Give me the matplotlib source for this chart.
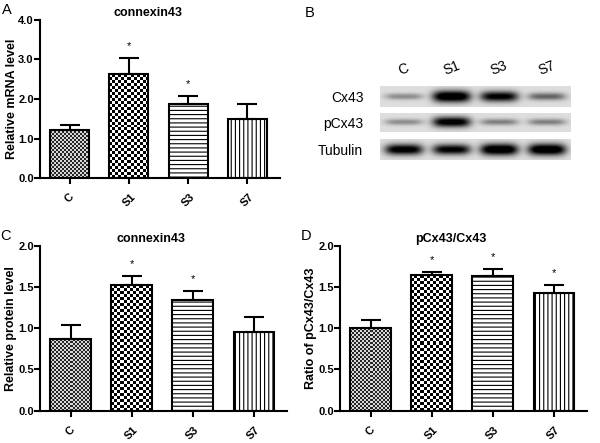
import numpy as np
import matplotlib
matplotlib.use("Agg")
import matplotlib.pyplot as plt
from matplotlib.colors import ListedColormap

plt.rcParams["font.family"] = ["Liberation Sans", "DejaVu Sans"]
plt.rcParams["hatch.linewidth"] = 0.8

groups = ["C", "S1", "S3", "S7"]

# A: connexin43 mRNA
mrna_mean = [1.22, 2.63, 1.87, 1.49]
mrna_err = [0.12, 0.40, 0.21, 0.38]
mrna_sig = [False, True, True, False]

# C: connexin43 protein
prot_mean = [0.87, 1.52, 1.345, 0.95]
prot_err = [0.17, 0.12, 0.105, 0.19]
prot_sig = [False, True, True, False]

# D: pCx43/Cx43 ratio
ratio_mean = [1.00, 1.65, 1.64, 1.43]
ratio_err = [0.10, 0.03, 0.08, 0.09]
ratio_sig = [False, True, True, True]

# B: western blot, band darkness per lane (0 = nothing, 1 = saturated)
blot_rows = ["Cx43", "pCx43", "Tubulin"]
cx43_bands = [0.30, 1.00, 0.85, 0.45]
pcx43_bands = [0.30, 0.90, 0.35, 0.35]
tubulin_bands = [0.90, 0.85, 1.00, 1.00]

BAR_W = 0.66
LW = 1.5


def checker_fill(ax, bar, cell_px, dark, light):
    # checkerboard texture clipped to the bar (GraphPad style fill)
    x0, y0 = bar.get_x(), bar.get_y()
    x1, y1 = x0 + bar.get_width(), y0 + bar.get_height()
    (px0, py0), (px1, py1) = ax.transData.transform([(x0, y0), (x1, y1)])
    nx = max(1, int(round((px1 - px0) / cell_px)))
    ny = max(1, int(round((py1 - py0) / cell_px)))
    board = np.add.outer(np.arange(ny), np.arange(nx)) % 2
    img = ax.imshow(board, cmap=ListedColormap([light, dark]),
                    extent=(x0, x1, y0, y1), interpolation="nearest",
                    aspect="auto", zorder=1.5)
    img.set_clip_path(bar)


def bar_panel(ax, means, errs, sig, ymax, ystep, title, ylabel, letter):
    x = np.arange(len(groups))
    ax.set_xlim(-0.5, 3.55)
    ax.set_ylim(0, ymax)
    bars = ax.bar(x, means, width=BAR_W, facecolor="white", edgecolor="black",
                  linewidth=LW, zorder=2)
    bars[0].set_facecolor("none")
    bars[1].set_facecolor("none")
    bars[2].set_hatch("----")
    bars[3].set_hatch("||||")
    ax.errorbar(x, means, yerr=[np.zeros(len(errs)), errs], fmt="none",
                ecolor="black", elinewidth=LW, capsize=7, capthick=LW, zorder=3)
    checker_fill(ax, bars[0], 2, "#262626", "#d8d8d8")
    checker_fill(ax, bars[1], 3, "black", "white")
    ax.set_xlim(-0.5, 3.55)
    ax.set_ylim(0, ymax)

    for i, s in enumerate(sig):
        if s:
            ax.annotate("*", xy=(i, means[i] + errs[i]), xytext=(0, 5),
                        textcoords="offset points", ha="center", va="bottom",
                        fontsize=8)

    ticks = np.arange(0, ymax + 1e-9, ystep)
    ax.set_yticks(ticks)
    ax.set_yticklabels([f"{v:.1f}" for v in ticks], fontweight="bold", fontsize=8)
    ax.set_xticks(x)
    ax.set_xticklabels(groups, rotation=45, ha="center", va="top",
                       fontweight="bold", fontsize=8)
    ax.tick_params(width=LW, length=4, direction="out")
    ax.tick_params(axis="y", pad=0.5)
    ax.tick_params(axis="x", pad=6)
    for side in ("top", "right"):
        ax.spines[side].set_visible(False)
    for side in ("left", "bottom"):
        ax.spines[side].set_linewidth(LW)
    ax.set_title(title, fontweight="bold", fontsize=9, x=0.45, pad=3)
    ax.set_ylabel(ylabel, fontweight="bold", fontsize=9)
    ax.yaxis.set_label_coords(-0.092, 0.5)
    ax.text(-0.16, 1.02, letter, transform=ax.transAxes, fontsize=10.5,
            ha="left", va="bottom")


def blot_image(bands, ny=60, nx=400):
    xs = np.linspace(0, len(bands), nx)
    ys = np.linspace(-1, 1, ny)
    X, Y = np.meshgrid(xs, ys)
    dark = np.zeros_like(X)
    for i, b in enumerate(bands):
        wy = 0.20 + 0.36 * b
        dark += b * np.exp(-np.abs((X - (i + 0.5)) / 0.40) ** 4) * np.exp(-(Y / wy) ** 2)
    return 0.87 * (1 - np.clip(1.25 * dark, 0, 1))


fig = plt.figure(figsize=(6, 4.43), dpi=100)

axA = fig.add_axes([0.0667, 0.598, 0.40, 0.357])
bar_panel(axA, mrna_mean, mrna_err, mrna_sig, 4.0, 1.0,
          "connexin43", "Relative mRNA level", "A")

axC = fig.add_axes([0.0667, 0.073, 0.412, 0.372])
bar_panel(axC, prot_mean, prot_err, prot_sig, 2.0, 0.5,
          "connexin43", "Relative protein level", "C")

axD = fig.add_axes([0.5667, 0.073, 0.412, 0.372])
bar_panel(axD, ratio_mean, ratio_err, ratio_sig, 2.0, 0.5,
          "pCx43/Cx43", "Ratio of pCx43/Cx43", "D")

# panel B: blot strips
row_boxes = [
    [0.6333, 0.7585, 0.3167, 0.0474],
    [0.6333, 0.7020, 0.3167, 0.0429],
    [0.6333, 0.6388, 0.3167, 0.0474],
]
for k, (name, bands) in enumerate(zip(blot_rows, [cx43_bands, pcx43_bands, tubulin_bands])):
    bx = fig.add_axes(row_boxes[k])
    bx.imshow(blot_image(bands), cmap="gray", vmin=0, vmax=1, aspect="auto",
              extent=(0, len(bands), -1, 1), interpolation="bilinear")
    bx.set_xlim(0, len(bands))
    bx.set_ylim(-1, 1)
    for sp in bx.spines.values():
        sp.set_visible(False)
    bx.set_yticks([0])
    bx.set_yticklabels([name], fontsize=10)
    bx.tick_params(axis="y", length=0, pad=12)
    if k == 0:
        bx.xaxis.tick_top()
        bx.set_xticks(np.arange(len(groups)) + 0.5)
        bx.set_xticklabels(groups, rotation=22, fontsize=10, ha="center", va="bottom")
        bx.tick_params(axis="x", length=0, pad=6)
    else:
        bx.set_xticks([])

fig.text(0.508, 0.955, "B", fontsize=10.5, ha="left", va="bottom")

fig.savefig("out.png", dpi=100, facecolor="white")
